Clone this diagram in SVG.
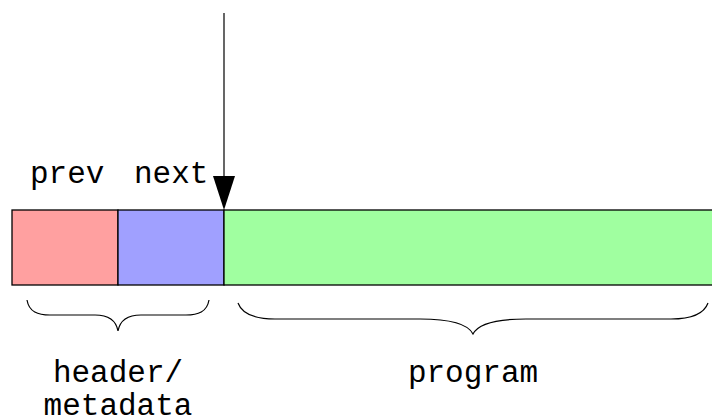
<svg xmlns="http://www.w3.org/2000/svg" width="712" height="418" viewBox="0 0 712 418">
<style>
.t{font-family:"Liberation Mono","Courier New",monospace;font-size:31px;fill:#000}
.box{stroke:#000;stroke-width:1.3}
.br{fill:none;stroke:#000;stroke-width:1.2}
</style>
<rect width="712" height="418" fill="#fff"/>
<g id="prev">
<rect class="box" x="12" y="210" width="106" height="75" fill="#ffa0a0"/>
<text class="t" x="30" y="183">prev</text>
</g>
<g id="next">
<rect class="box" x="118" y="210" width="106" height="75" fill="#a0a0ff"/>
<text class="t" x="134" y="183">next</text>
</g>
<g id="program">
<rect class="box" x="224" y="210" width="500" height="75" fill="#a0ffa0"/>
</g>
<g id="header-brace">
<path class="br" d="M27,300 C29,312 38,315 50,315 L95,315 C108,315 116,320 118,331 C120,320 128,315 141,315 L186,315 C198,315 207,312 209,300"/>
<text class="t" x="118" y="382" text-anchor="middle">header/</text>
<text class="t" x="118" y="415" text-anchor="middle">metadata</text>
</g>
<g id="program-brace">
<path class="br" d="M238,303 C242,314 255,319 275,319 L420,319 C450,319 468,324 473,334 C478,324 496,319 526,319 L671,319 C691,319 704,314 708,303"/>
<text class="t" x="473" y="382" text-anchor="middle">program</text>
</g>
<g id="connectors">
<line x1="224" y1="13" x2="224" y2="178" stroke="#000" stroke-width="1.2"/>
<polygon points="213,176 235,176 224,210" fill="#000"/>
</g>
</svg>
